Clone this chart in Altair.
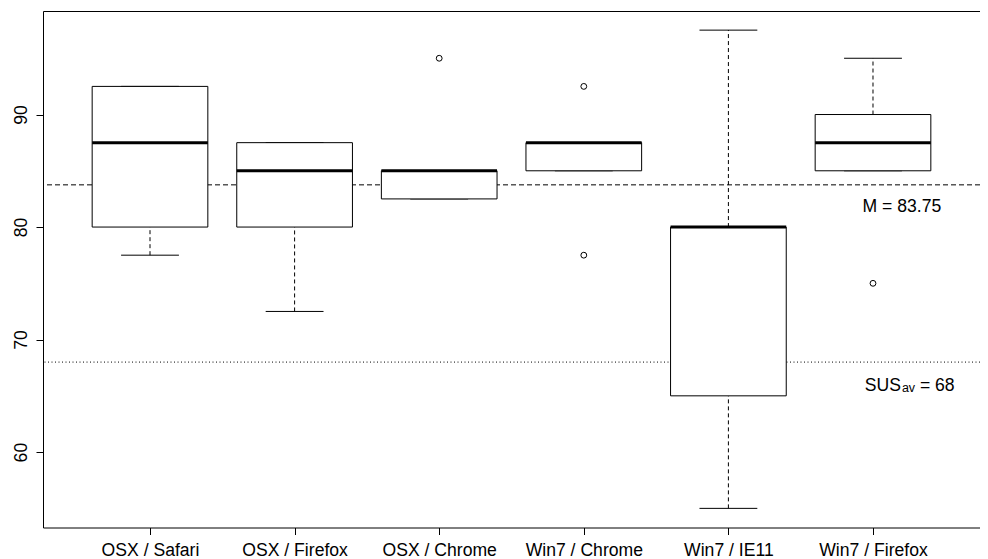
import json
import altair as alt
import pandas as pd

# ---- data ----
categories = ["OSX / Safari", "OSX / Firefox", "OSX / Chrome",
              "Win7 / Chrome", "Win7 / IE11", "Win7 / Firefox"]
lower_whisker = [77.5, 72.5, 82.5, 85.0, 55.0, 85.0]
q1 = [80.0, 80.0, 82.5, 85.0, 65.0, 85.0]
median = [87.5, 85.0, 85.0, 87.5, 80.0, 87.5]
q3 = [92.5, 87.5, 85.0, 87.5, 80.0, 90.0]
upper_whisker = [92.5, 87.5, 85.0, 87.5, 97.5, 95.0]
outlier_group = [3, 4, 4, 6]          # 1-based group index
outlier_value = [95.0, 92.5, 77.5, 75.0]
mean_value = 83.75
sus_average = 68
y_ticks = [60, 70, 80, 90]

# ---- style constants ----
BOX_HALF = 0.4
CAP_HALF = 0.2
FONT = "Liberation Sans"
FS = 17.6
LABEL_X = 6.2
X_DOMAIN = [0.26, 6.74]
Y_DOMAIN = [53.3, 99.2]

pos = list(range(1, len(categories) + 1))
boxes = pd.DataFrame({
    "cat": categories, "pos": pos,
    "left": [p - BOX_HALF for p in pos], "right": [p + BOX_HALF for p in pos],
    "cap_l": [p - CAP_HALF for p in pos], "cap_r": [p + CAP_HALF for p in pos],
    "lo": lower_whisker, "q1": q1, "med": median, "q3": q3, "hi": upper_whisker,
})
outliers = pd.DataFrame({"pos": outlier_group, "val": outlier_value})
lines = pd.DataFrame({"y": [mean_value, sus_average]})
labels = pd.DataFrame({"x": [LABEL_X], "mean": [mean_value], "sus": [sus_average]})

label_js = json.dumps(categories)

xscale = alt.Scale(domain=X_DOMAIN, nice=False, zero=False)
yscale = alt.Scale(domain=Y_DOMAIN, nice=False, zero=False)

xaxis = alt.Axis(values=pos, labelExpr=f"{label_js}[datum.value - 1]", title=None,
                 grid=False, domain=False, tickSize=7, tickColor="black",
                 labelColor="black", labelFontSize=FS, labelFont=FONT, labelPadding=7,
                 labelFlush=False, labelOverlap=False)
yaxis = alt.Axis(values=y_ticks, title=None, grid=False, domain=False, tickSize=7,
                 tickColor="black", labelColor="black", labelFontSize=FS, labelFont=FONT,
                 labelAngle=270, labelAlign="center", labelBaseline="bottom",
                 labelPadding=6, labelFlush=False)

base = alt.Chart(boxes)

whisk_hi = base.mark_rule(color="black", strokeWidth=1, strokeDash=[4, 3]).encode(
    x=alt.X("pos:Q", scale=xscale, axis=xaxis),
    y=alt.Y("q3:Q", scale=yscale, axis=yaxis), y2="hi:Q")
whisk_lo = base.mark_rule(color="black", strokeWidth=1, strokeDash=[4, 3]).encode(
    x="pos:Q", y="lo:Q", y2="q1:Q")
cap_hi = base.mark_rule(color="black", strokeWidth=1).encode(
    x="cap_l:Q", x2="cap_r:Q", y="hi:Q")
cap_lo = base.mark_rule(color="black", strokeWidth=1).encode(
    x="cap_l:Q", x2="cap_r:Q", y="lo:Q")
box = base.mark_rect(fill="white", stroke="black", strokeWidth=1).encode(
    x="left:Q", x2="right:Q", y="q1:Q", y2="q3:Q")
med = base.mark_rule(color="black", strokeWidth=3).encode(
    x="left:Q", x2="right:Q", y="med:Q")

outl = alt.Chart(outliers).mark_point(shape="circle", filled=False, size=34,
                                      color="black", strokeWidth=1, opacity=1).encode(
    x="pos:Q", y="val:Q")

mean_line = alt.Chart(lines).transform_filter(alt.datum.y == mean_value).mark_rule(
    color="black", strokeWidth=1, strokeDash=[5, 3]).encode(y="y:Q")
sus_line = alt.Chart(lines).transform_filter(alt.datum.y == sus_average).mark_rule(
    color="black", strokeWidth=1, strokeDash=[1, 2.5]).encode(y="y:Q")

lab = alt.Chart(labels)
m_text = lab.mark_text(font=FONT, fontSize=FS, align="center", baseline="alphabetic",
                       dy=27, color="black").encode(
    x="x:Q", y="mean:Q", text=alt.value(f"M = {mean_value}"))
sus_text = lab.mark_text(font=FONT, fontSize=FS, align="right", baseline="alphabetic",
                         dy=28.5, dx=-1, color="black").encode(
    x="x:Q", y="sus:Q", text=alt.value("SUS"))
sub_text = lab.mark_text(font=FONT, fontSize=12.5, align="left", baseline="alphabetic",
                         dy=30, dx=0, color="black").encode(
    x="x:Q", y="sus:Q", text=alt.value("av"))
eq_text = lab.mark_text(font=FONT, fontSize=FS, align="left", baseline="alphabetic",
                        dy=28.5, dx=18, color="black").encode(
    x="x:Q", y="sus:Q", text=alt.value(f"= {sus_average}"))

chart = alt.layer(
    mean_line, sus_line, whisk_hi, whisk_lo, cap_hi, cap_lo, box, med, outl,
    m_text, sus_text, sub_text, eq_text
).properties(
    width=937, height=516.5,
    autosize=alt.AutoSizeParams(type="none"),
    padding={"left": 35, "top": 3, "right": 0, "bottom": 31.5},
).configure(
    background="white"
).configure_view(
    stroke="black", strokeWidth=1
)

chart.save("out.html", embed_options={"renderer": "svg", "actions": False})
